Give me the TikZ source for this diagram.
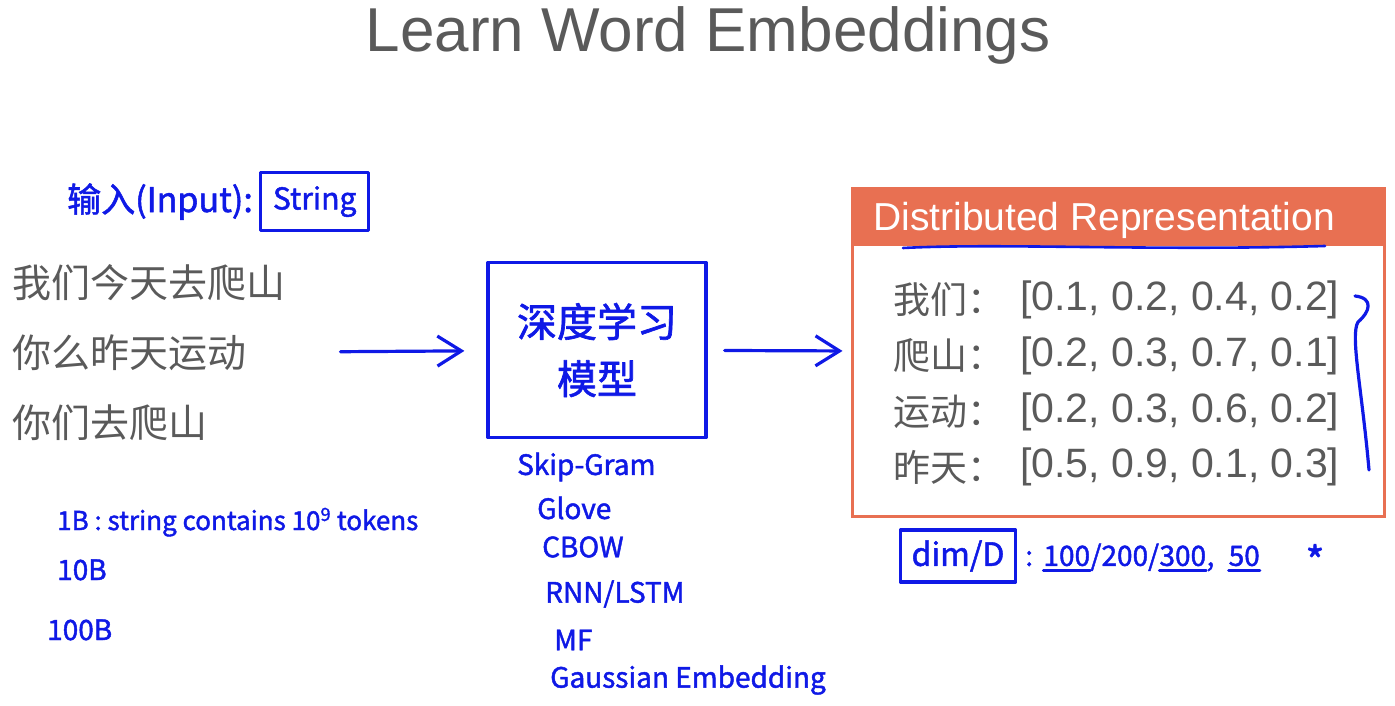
\documentclass[tikz,border=0pt]{standalone}
\definecolor{ink}{RGB}{15, 25, 230}
\definecolor{orange1}{RGB}{232, 112, 82}
\definecolor{grey1}{RGB}{90, 90, 90}
\usepackage{fontspec}
\setmainfont{Liberation Sans}
\newfontfamily\cjk{Noto Sans CJK SC}
\newfontfamily\handfont[FakeBold=1.6]{Noto Sans CJK SC}
\usepackage{tikz}
\usetikzlibrary{arrows.meta, positioning, calc}

\begin{document}
\begin{tikzpicture}[x=1pt, y=-1pt,
  hand/.style={text=ink, font=\handfont\fontsize{28}{34}\selectfont, inner sep=2pt},
  pen/.style={draw=ink, line width=3.2pt, line cap=round, line join=round},
  penarrow/.style={pen, -{Straight Barb[length=24pt, width=30pt, line width=3.2pt]}},
  rowtext/.style={text=grey1, inner sep=0, font=\fontsize{41}{44}\selectfont}]
  \useasboundingbox (0,0) rectangle (1395,706);

  \node[anchor=base, text=grey1, font=\fontsize{62}{70}\selectfont] (title) at (708,52) {Learn Word Embeddings};

  % input
  \node[hand, anchor=base west, font=\handfont\fontsize{34}{40}\selectfont] (inlabel) at (65,212) {输入(Input):};
  \node[hand, pen, right=4pt of inlabel, minimum width=108pt, minimum height=58pt, font=\handfont\fontsize{30}{34}\selectfont] (instr) {String};
  \node[anchor=west, text=grey1, font=\cjk\fontsize{39}{70}\selectfont, align=left, inner sep=0] (corpus) at (12,353) {我们今天去爬山\\你么昨天运动\\你们去爬山};

  \node[hand, anchor=base west, font=\handfont\fontsize{26}{34}\selectfont] (note1) at (55,530) {1B : string contains 10\textsuperscript{9} tokens};
  \node[hand, anchor=base west] (note2) at (55,580) {10B};
  \node[hand, anchor=base west] (note3) at (45,640) {100B};

  % model
  \node[hand, pen, font=\handfont\fontsize{40}{57}\selectfont, align=center, minimum width=218pt, minimum height=175pt] (model) at (597,350) {深度学习\\模型};
  \foreach \x/\y/\t [count=\i] in {515/467/Skip-Gram, 535/508/Glove, 540/547/CBOW, 543/594/{RNN/LSTM}, 552/640/MF, 548/680/Gaussian Embedding}
    \node[hand, anchor=west] (m\i) at (\x,\y) {\t};

  % representation
  \node[draw=orange1, line width=3pt, minimum width=532pt, minimum height=328pt, inner sep=0] (repbox) at (1118,352) {};
  \fill[orange1] (repbox.north west) rectangle ($(repbox.north east)+(0,59)$);
  \node[anchor=west, text=white, font=\fontsize{39}{44}\selectfont, inner sep=0] (reptitle) at (873,220) {Distributed Representation};
  \draw[pen, line width=2.6pt] (903,248) .. controls (1000,243) and (1150,251) .. (1325,246);
  \foreach \w/\v/\y [count=\i] in {我们/{0.1, 0.2, 0.4, 0.2}/300, 爬山/{0.2, 0.3, 0.7, 0.1}/356, 运动/{0.2, 0.3, 0.6, 0.2}/412, 昨天/{0.5, 0.9, 0.1, 0.3}/467} {
    \node[rowtext, font=\cjk\fontsize{37}{40}\selectfont, anchor=west] (w\i) at (893,\y) {\w：};
    \node[rowtext, anchor=west] (v\i) at (1020,\y) {[\v]};
  }
  \draw[pen] (1355,296) .. controls (1374,298) and (1370,312) .. (1358,322) .. controls (1350,335) and (1362,390) .. (1369,470);

  % dimension
  \node[hand, pen, minimum width=115pt, minimum height=52pt, font=\handfont\fontsize{32}{36}\selectfont] (dimbox) at (958,556) {dim/D};
  \node[hand, base right=6pt of dimbox] (dcolon) {:};
  \node[hand, base right=8pt of dcolon, inner sep=0] (d100) {100};
  \node[hand, base right=0pt of d100, inner sep=0] (d200) {/200/};
  \node[hand, base right=0pt of d200, inner sep=0] (d300) {300};
  \node[hand, base right=0pt of d300, inner sep=0] (dcomma) {,};
  \node[hand, base right=14pt of dcomma, inner sep=0] (d50) {50};
  \node[hand, font=\handfont\fontsize{40}{40}\selectfont] (star) at (1315,560) {*};
  \foreach \n in {d100, d300, d50}
    \draw[pen, line width=2.6pt] ($(\n.south west)+(0,4)$) -- ($(\n.south east)+(0,4)$);

  \draw[penarrow, shorten <=55pt, shorten >=22pt] (corpus) -- (model);
  \draw[penarrow, shorten <=17pt, shorten >=8pt] (model) -- (repbox);
\end{tikzpicture}
\end{document}
